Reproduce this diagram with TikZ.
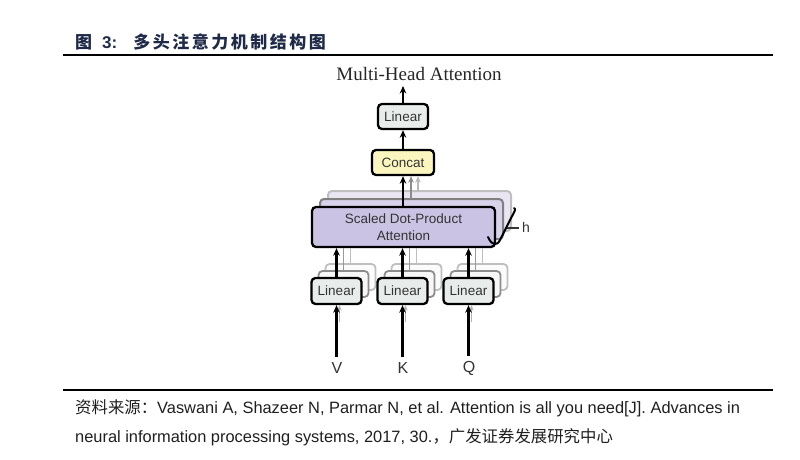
\documentclass[tikz,border=0pt]{standalone}
\usepackage{fontspec}
\setmainfont{Liberation Sans}
\newfontfamily\serifmh{Liberation Serif}
\newfontfamily\cjk{Noto Sans CJK SC}
\usetikzlibrary{arrows.meta}
\definecolor{navy}{HTML}{1F2A48}
\definecolor{txtgray}{HTML}{333333}
\definecolor{lingray}{HTML}{E8ECEB}
\definecolor{concaty}{HTML}{FBF5C0}
\definecolor{sdpa}{HTML}{CBC3E3}
\definecolor{sdpaB}{HTML}{D9D3EA}
\definecolor{sdpaC}{HTML}{E9E6F2}
\tikzset{
  box/.style={draw=black, line width=2.3pt, rounded corners=4pt, inner sep=0pt,
    font=\fontsize{13.5}{16.5}\selectfont, text=txtgray, align=center},
  linbox/.style={box, fill=lingray, minimum width=50pt, minimum height=26pt},
  ghostA/.style={draw=black!45, line width=1.8pt, rounded corners=4pt, fill=white!94!gray, inner sep=0pt},
  ghostB/.style={draw=black!25, line width=1.8pt, rounded corners=4pt, fill=white!97!gray, inner sep=0pt},
  arr/.style={line width=2.1pt, -{Stealth[length=7.5pt,width=6.5pt]}},
  garr/.style={line width=1.8pt, draw=black!45, -{Stealth[length=6.5pt,width=5.5pt]}},
  lgarr/.style={line width=1.8pt, draw=black!28, -{Stealth[length=6.5pt,width=5.5pt]}},
  gline/.style={line width=1.7pt, draw=black!40},
  lgline/.style={line width=1.7pt, draw=black!25},
  rule/.style={line width=1.6pt, draw=black},
  lbl/.style={font=\fontsize{16}{18}\selectfont, text=txtgray, inner sep=0pt},
  src/.style={font=\fontsize{16.4}{19}\selectfont, text=black!88, inner sep=0pt, anchor=base west},
}
\begin{document}
\begin{tikzpicture}[x=1pt,y=-1pt]
\useasboundingbox (0,0) rectangle (800,460);
% title
\node[anchor=base west, inner sep=0pt, text=navy, font=\fontsize{17}{19}\selectfont\bfseries] (title) at (75,48.5)
  {\cjk 图\hspace{10pt}\rmfamily 3:\hspace{16pt}\cjk 多\hspace{2.5pt}头\hspace{2.5pt}注\hspace{2.5pt}意\hspace{2.5pt}力\hspace{2.5pt}机\hspace{2.5pt}制\hspace{2.5pt}结\hspace{2.5pt}构\hspace{2.5pt}图};
\coordinate (r1a) at (63,55); \coordinate (r1b) at (773,55);
\draw[rule, line width=2pt] (r1a) -- (r1b);

% output label
\node[font=\serifmh\fontsize{19}{21}\selectfont, text=black!85, inner sep=0pt, anchor=base] (out) at (419,80) {Multi-Head Attention};
\coordinate (outarr) at (403,86);

% top linear & concat
\node[linbox, minimum height=25pt] (linT) at (403,116.5) {Linear};
\node[box, fill=concaty, minimum width=62pt, minimum height=25pt] (concat) at (403,162.5) {Concat};

% SDPA stack
\node[box, draw=black!25, line width=2pt, fill=sdpaC, minimum width=183pt, minimum height=40pt] (sdpaG2) at (419.5,211) {};
\node[box, draw=black!50, line width=2pt, fill=sdpaB, minimum width=183pt, minimum height=40pt] (sdpaG1) at (411.5,219) {};
\node[box, fill=sdpa, minimum width=183pt, minimum height=40pt] (sdpaM) at (403.5,227) {Scaled Dot-Product\\Attention};

% arrows SDPA -> concat
\coordinate (g2top) at (418,191);
\coordinate (g1top) at (411,199);
\draw[lgarr] (g2top) -- (g2top |- concat.south);
\draw[garr] (g1top) -- (g1top |- concat.south);
\draw[arr] (sdpaM.north -| concat.south) -- (concat.south);
\draw[arr] (concat.north) -- (linT.south);
\draw[arr] (linT.north) -- (outarr);

% h bracket
\coordinate (hb1) at (488,237);
\coordinate (hb2) at (514,208);
\draw[line width=2pt, line cap=round] (hb1) .. controls (492,246) and (497,246) .. (500,240) -- (511,218) .. controls (515,211) and (516,209) .. (hb2);
\coordinate (hd1) at (507,228); \coordinate (hd2) at (519,228);
\draw[line width=1.2pt, draw=black!80] (hd1) -- (hd2);
\node[font=\fontsize{14}{16}\selectfont, text=txtgray, inner sep=0pt, anchor=west] (hlab) at (522,227) {h};

% bottom linear stacks
\foreach \n/\x/\lab in {V/336.5/V, K/402.5/K, Q/468.5/Q}{
  \node[ghostB, minimum width=50pt, minimum height=26pt] (lin\n g2) at (\x+14,277) {};
  \node[ghostA, minimum width=50pt, minimum height=26pt] (lin\n g1) at (\x+7,284) {};
  \draw[lgline] (lin\n g2.north) -- (lin\n g2.north |- sdpaM.south);
  \draw[gline] (lin\n g1.north) -- (lin\n g1.north |- sdpaM.south);
  \node[linbox] (lin\n) at (\x,291) {Linear};
  \draw[arr] (lin\n.north) -- (lin\n.north |- sdpaM.south);
  \node[lbl] (in\n) at (\x+0.5,368) {\lab};
  \coordinate (gin\n) at (\x+3,322);
  \draw[line width=1.5pt, draw=black!30, -{Stealth[length=5.5pt,width=4.5pt]}] (gin\n) -- (gin\n |- lin\n.south);
  \draw[arr] ([yshift=5pt]in\n.north -| lin\n.south) -- (lin\n.south);
}

% bottom rule & source
\coordinate (r2a) at (63,390); \coordinate (r2b) at (773,390);
\draw[rule] (r2a) -- (r2b);
\node[src] (src1) at (75,413.5) {\cjk 资料来源：\rmfamily Vaswani A, Shazeer N, Parmar N, et al. Attention is all you need[J]. Advances in};
\node[src] (src2) at (75,442.5) {neural information processing systems, 2017, 30.\cjk ，广发证券发展研究中心};
\end{tikzpicture}
\end{document}
